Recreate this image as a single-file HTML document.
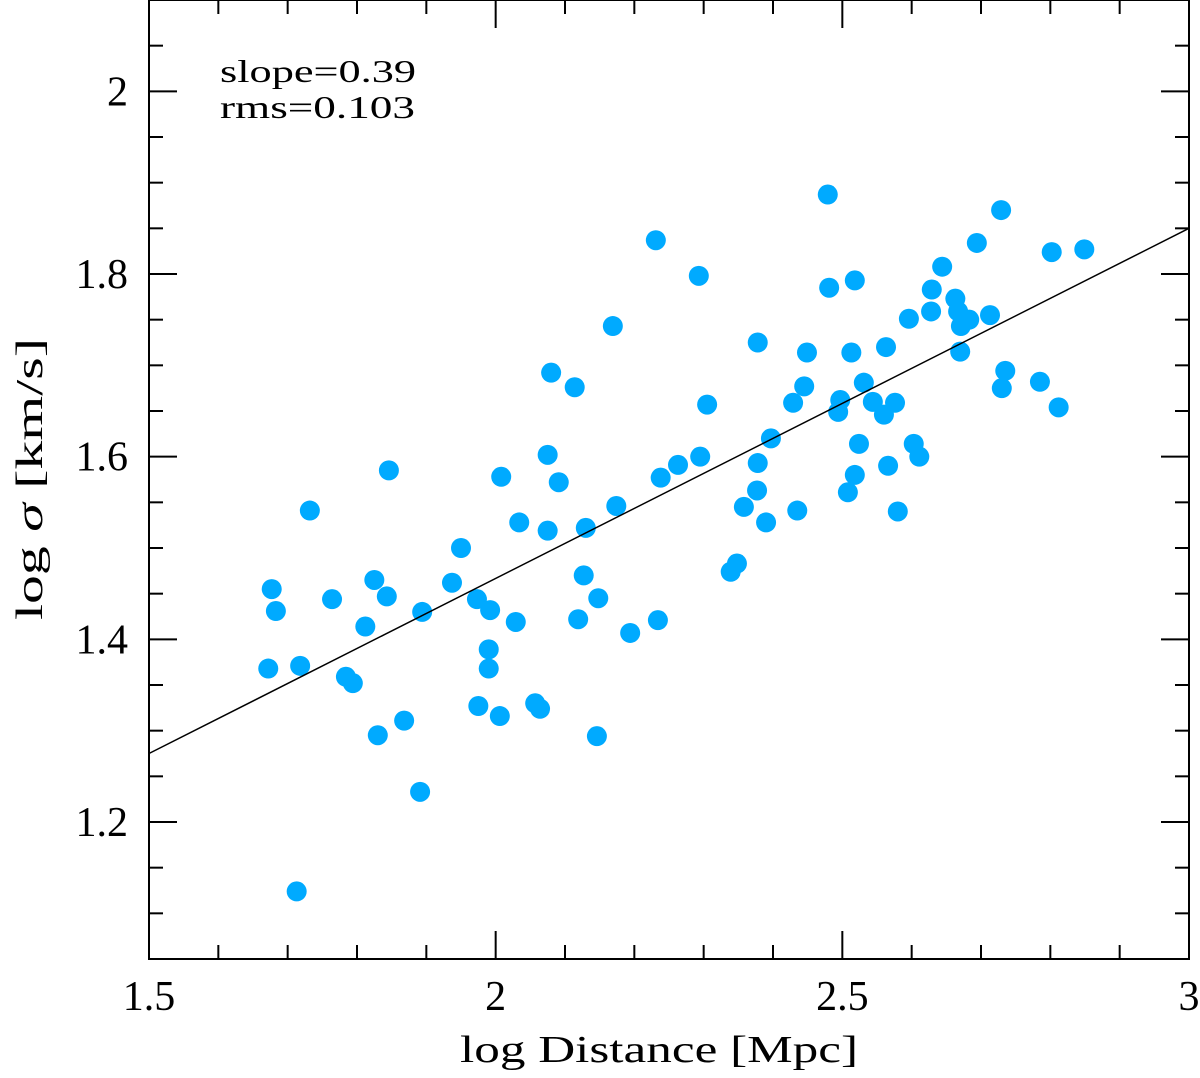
<!DOCTYPE html>
<html><head><meta charset="utf-8"><style>
html,body{margin:0;padding:0;background:#fff}
svg text{font-family:"Liberation Serif",serif;fill:#000}
</style></head><body>
<svg id="chart" width="1200" height="1073" xmlns="http://www.w3.org/2000/svg">
<rect x="149" y="0" width="1040" height="959" fill="none" stroke="#000" stroke-width="2"/>
<g id="ticks"></g>
<g id="points"></g>
<line id="fit" stroke="#000" stroke-width="1.5"/>
<text x="220" y="82" font-size="32" textLength="196" lengthAdjust="spacingAndGlyphs">slope=0.39</text>
<text x="220" y="118" font-size="32" textLength="195" lengthAdjust="spacingAndGlyphs">rms=0.103</text>
<text x="460" y="1062" font-size="38" textLength="398" lengthAdjust="spacingAndGlyphs">log Distance [Mpc]</text>
<text transform="translate(42,620) rotate(-90)" font-size="38" textLength="282" lengthAdjust="spacingAndGlyphs">log <tspan font-style="italic">σ</tspan> [km/s]</text>
</svg>
<script>
const xTicks=[1.5,2,2.5,3];
const xTickLabels=["1.5","2","2.5","3"];
const yTicks=[1.2,1.4,1.6,1.8,2];
const yTickLabels=["1.2","1.4","1.6","1.8","2"];
const fitLine=[[1.5,1.275],[3,1.85]];
const xs=[1.672,1.677,1.683,1.718,1.713,1.732,1.764,1.784,1.794,1.812,1.825,1.830,1.843,1.846,1.868,1.891,1.894,1.937,1.950,1.973,1.975,1.992,1.990,1.990,2.006,2.008,2.029,2.034,2.057,2.064,2.075,2.075,2.080,2.091,2.114,2.119,2.127,2.130,2.148,2.146,2.169,2.174,2.194,2.231,2.234,2.238,2.263,2.293,2.295,2.305,2.339,2.348,2.358,2.377,2.378,2.378,2.390,2.397,2.435,2.429,2.445,2.449,2.479,2.481,2.494,2.497,2.508,2.513,2.518,2.518,2.524,2.531,2.544,2.560,2.563,2.566,2.576,2.580,2.596,2.603,2.611,2.628,2.629,2.644,2.663,2.667,2.671,2.670,2.683,2.694,2.713,2.729,2.730,2.735,2.785,2.802,2.812,2.849];
const ys=[1.368,1.455,1.431,1.371,1.124,1.541,1.444,1.359,1.352,1.414,1.465,1.295,1.447,1.585,1.311,1.233,1.430,1.462,1.500,1.444,1.327,1.432,1.389,1.368,1.316,1.578,1.419,1.528,1.330,1.324,1.602,1.519,1.692,1.572,1.676,1.422,1.470,1.522,1.445,1.294,1.743,1.546,1.407,1.837,1.421,1.577,1.591,1.798,1.600,1.657,1.474,1.483,1.545,1.563,1.593,1.725,1.528,1.620,1.541,1.659,1.677,1.714,1.887,1.785,1.649,1.662,1.561,1.714,1.793,1.580,1.614,1.681,1.660,1.646,1.720,1.590,1.659,1.540,1.751,1.614,1.600,1.759,1.783,1.808,1.773,1.759,1.743,1.715,1.750,1.834,1.755,1.870,1.675,1.694,1.682,1.824,1.654,1.827];
const X0=149,X1=1189,Y0=0,Y1=959,xmin=1.5,xmax=3,ymin=1.05,ymax=2.1;
const sx=v=>X0+(v-xmin)/(xmax-xmin)*(X1-X0);
const sy=v=>Y1-(v-ymin)/(ymax-ymin)*(Y1-Y0);
const NS="http://www.w3.org/2000/svg";
const tg=document.getElementById('ticks');
function ln(x1,y1,x2,y2){const l=document.createElementNS(NS,'line');l.setAttribute('x1',x1);l.setAttribute('y1',y1);l.setAttribute('x2',x2);l.setAttribute('y2',y2);l.setAttribute('stroke','#000');l.setAttribute('stroke-width','2');


tg.appendChild(l);}
for(let v=1.5;v<=3.0001;v+=0.1){const x=sx(v);const major=Math.abs(v*2-Math.round(v*2))<1e-6;const L=major?28:14;ln(x,Y1,x,Y1-L);ln(x,Y0,x,Y0+L);}
for(let v=1.05;v<=2.1001;v+=0.05){const y=sy(v);const major=Math.abs(v*5-Math.round(v*5))<1e-6;const L=major?28:14;ln(X0,y,X0+L,y);ln(X1,y,X1-L,y);}
xTicks.forEach((v,i)=>{const t=document.createElementNS(NS,'text');t.setAttribute('x',sx(v));t.setAttribute('y',1010);t.setAttribute('font-size','42');t.setAttribute('text-anchor','middle');t.textContent=xTickLabels[i];


document.getElementById('chart').appendChild(t);});
yTicks.forEach((v,i)=>{const t=document.createElementNS(NS,'text');t.setAttribute('x',128);t.setAttribute('y',sy(v)+14);t.setAttribute('font-size','42');t.setAttribute('text-anchor','end');t.textContent=yTickLabels[i];


document.getElementById('chart').appendChild(t);});
const pg=document.getElementById('points');
xs.forEach((v,i)=>{const c=document.createElementNS(NS,'circle');c.setAttribute('cx',sx(v));c.setAttribute('cy',sy(ys[i]));c.setAttribute('r','10');c.setAttribute('fill','#00aaff');


pg.appendChild(c);});
const f=document.getElementById('fit');
f.setAttribute('x1',sx(fitLine[0][0]));f.setAttribute('y1',sy(fitLine[0][1]));f.setAttribute('x2',sx(fitLine[1][0]));f.setAttribute('y2',sy(fitLine[1][1]));
</script>
</body></html>
